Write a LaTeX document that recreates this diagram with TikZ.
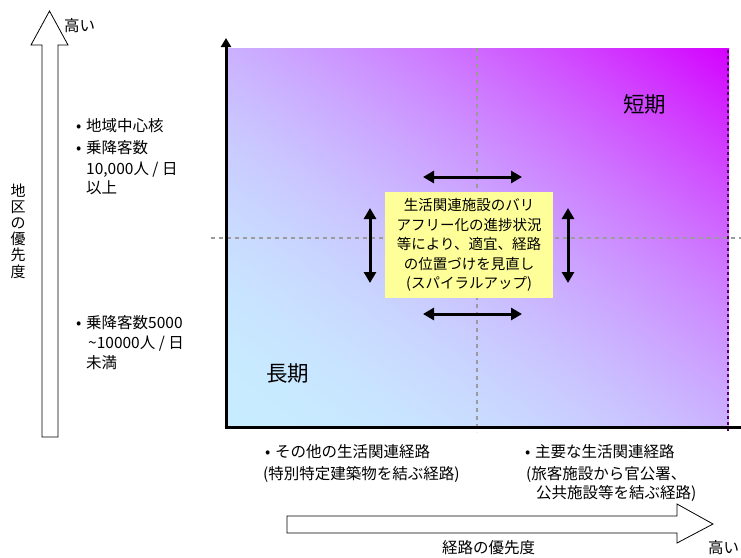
\documentclass[tikz,border=0pt]{standalone}
\usepackage{fontspec}
\setmainfont{Noto Sans CJK JP}
\usetikzlibrary{arrows.meta}
% colour depends on p=(u+v)/2 along the plot's diagonal (u,v = fractions of width/height)
\pgfdeclarefunctionalshading{plotshade}{\pgfpoint{0bp}{0bp}}{\pgfpoint{100bp}{100bp}}{}{%
  add 50 sub 100 div
  dup mul
  dup 12 mul 200 add 255 div
  exch
  1 exch sub 236 mul 255 div
  1
}
\definecolor{boxyellow}{RGB}{255,255,153}
\definecolor{dashgray}{RGB}{155,155,155}
\definecolor{dashpurple}{RGB}{80,0,100}
\newcommand\bul{\makebox[10pt][l]{•}}
\tikzset{
  lbl/.style={inner sep=0pt, font=\fontsize{15.5}{18}\selectfont, anchor=base west},
  big/.style={inner sep=0pt, font=\fontsize{21.5}{24}\selectfont},
  dblarrow/.style={line width=3pt, {Triangle[length=11pt,width=12pt]}-{Triangle[length=11pt,width=12pt]}},
  hollow/.style={draw=black, line width=0.8pt, fill=white},
  gridline/.style={dashgray, line width=1.2pt, dash pattern=on 4pt off 4pt},
  axisline/.style={line width=3pt},
}
\begin{document}
\begin{tikzpicture}[x=1pt,y=-1pt]
\useasboundingbox (0,0) rectangle (741,557);
% plot area
\shade[shading=plotshade] (226,48) rectangle (729,427);
\coordinate (O) at (226,427);
\coordinate (ytop) at (226,38);
\coordinate (xend) at (741,427);
\coordinate (vg1) at (477,48);
\coordinate (vg2) at (477,432);
\coordinate (hg1) at (211,238);
\coordinate (hg2) at (741,238);
\coordinate (vp1) at (728,50);
\coordinate (vp2) at (728,432);
\draw[gridline] (vg1) -- (vg2);
\draw[gridline] (hg1) -- (hg2);
\draw[dashpurple, line width=2pt, dash pattern=on 3pt off 3pt] (vp1) -- (vp2);
\draw[axisline, -{Triangle[length=9pt,width=10pt]}] ([yshift=-1.5pt]O) -- (ytop);
\draw[axisline] ([xshift=-1.5pt]O) -- (xend);
% central box
\node[fill=boxyellow, inner sep=0pt, minimum width=168pt, minimum height=106pt, align=center,
  font=\fontsize{14.5}{19.5}\selectfont] (box) at (469,245)
  {生活関連施設のバリ\\アフリー化の進捗状況\\等により、適宜、経路\\の位置づけを見直し\\(スパイラルアップ)};
\coordinate (at1) at (423,177); \coordinate (at2) at (522,177);
\coordinate (ab1) at (423,314); \coordinate (ab2) at (522,314);
\coordinate (al1) at (370,208); \coordinate (al2) at (370,283);
\coordinate (ar1) at (568,208); \coordinate (ar2) at (568,283);
\draw[dblarrow] (at1) -- (at2);
\draw[dblarrow] (ab1) -- (ab2);
\draw[dblarrow] (al1) -- (al2);
\draw[dblarrow] (ar1) -- (ar2);
\node[big] (short) at (644.5,104) {短期};
\node[big] (long) at (287.5,373.5) {長期};
% left hollow arrow
\draw[hollow] (42,437) -- (42,45) -- (31,45) -- (49.5,11) -- (68,45) -- (58,45) -- (58,437) -- cycle;
\node[lbl] (yhigh) at (64,31.5) {高い};
\node[inner sep=0pt, align=center, font=\fontsize{15}{16.2}\selectfont] (ylabel) at (18,231) {地\\区\\の\\優\\先\\度};
\node[lbl] (l1) at (76,131.5) {\bul 地域中心核};
\node[lbl] (l2) at (76,153.5) {\bul 乗降客数};
\node[lbl] (l3) at (86,174.5) {10,000人 / 日};
\node[lbl] (l4) at (86,193.5) {以上};
\node[lbl] (l5) at (76,328.5) {\bul 乗降客数5000};
\node[lbl] (l6) at (88,348.5) {\textasciitilde 10000人 / 日};
\node[lbl] (l7) at (86,368.5) {未満};
% bottom texts
\node[lbl] (b1) at (265,457.5) {\bul その他の生活関連経路};
\node[lbl] (b2) at (263,479) {(特別特定建築物を結ぶ経路)};
\node[lbl] (b3) at (525,457.5) {\bul 主要な生活関連経路};
\node[lbl] (b4) at (526,479) {(旅客施設から官公署、};
\node[lbl] (b5) at (536,498.5) {公共施設等を結ぶ経路)};
% bottom hollow arrow
\draw[hollow] (287,516) -- (677,516) -- (677,504) -- (713,524) -- (677,543) -- (677,533) -- (287,533) -- cycle;
\node[lbl] (xlabel) at (442,553) {経路の優先度};
\node[lbl] (xhigh) at (708,553) {高い};
\end{tikzpicture}
\end{document}
